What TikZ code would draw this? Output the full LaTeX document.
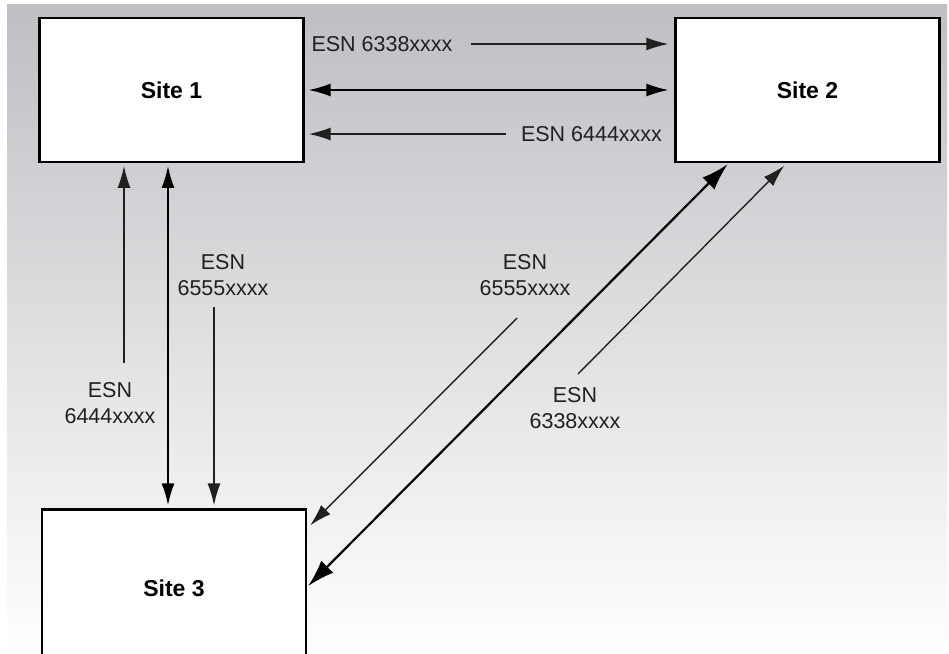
\documentclass[tikz,border=0pt]{standalone}
\usepackage{fontspec}
\setmainfont{Liberation Sans}
\usetikzlibrary{arrows.meta}

\definecolor{bgtop}{RGB}{190,191,195}
\definecolor{ink}{RGB}{35,31,32}

\begin{document}
\begin{tikzpicture}[x=1pt, y=-1pt,
        site/.style={draw=black, line width=2.3pt, fill=white, minimum width=264pt, minimum height=143.5pt, font=\fontsize{23}{27}\selectfont\bfseries},
        esn/.style={text=ink, font=\fontsize{21.5}{26}\selectfont, align=center, inner sep=0pt},
        link/.style={draw=ink, line width=1.4pt, -{Latex[length=22pt, width=13pt]}},
        duplex/.style={draw=black, line width=2pt, {Latex[length=22pt, width=13pt]}-{Latex[length=22pt, width=13pt]}},
        bigduplex/.style={draw=black, line width=2.2pt, {Latex[length=27pt, width=17pt]}-{Latex[length=27pt, width=17pt]}}]

        % Page and background
        \useasboundingbox (0,0) rectangle (949,653);
        \shade[top color=bgtop, bottom color=white] (7,4) rectangle (947,653);

        % Sites
        \node[site] (s1) at (171.5,90) {Site 1};
        \node[site] (s2) at (807.5,90) {Site 2};
        \node[site, minimum height=157pt] (s3) at (174,588) {Site 3};

        % ESN labels
        \node[esn] (l1) at (382,44) {ESN 6338xxxx};
        \node[esn] (l2) at (591.5,134) {ESN 6444xxxx};
        \node[esn] (l3) at (110,403) {ESN\\6444xxxx};
        \node[esn] (l4) at (223,275) {ESN\\6555xxxx};
        \node[esn] (l5) at (525,275) {ESN\\6555xxxx};
        \node[esn] (l6) at (575,408) {ESN\\6338xxxx};

        % Free ends of the links
        \coordinate (c4) at (124,363);
        \coordinate (c5) at (168,300);
        \coordinate (c6) at (214,307);
        \coordinate (c7) at (517,318);
        \coordinate (c9) at (578,374);

        % Site 1 -- Site 2
        \draw[link, shorten >=6pt] ([xshift=18pt]l1.east) -- (l1 -| s2.west);
        \draw[duplex, line width=1.6pt, shorten <=4pt, shorten >=6pt] (s1.east) -- (s2.west);
        \draw[link, shorten >=4pt] ([xshift=-15pt]l2.west) -- (l2 -| s1.east);

        % Site 1 -- Site 3
        \draw[link, shorten >=3pt] (c4) -- (c4 |- s1.south);
        \draw[duplex, shorten <=3pt, shorten >=3pt] (c5 |- s1.south) -- (c5 |- s3.north);
        \draw[link, shorten >=3pt] (c6) -- (c6 |- s3.north);

        % Site 2 -- Site 3
        \draw[link] (c7) -- ([shift={(3,17)}]s3.north east);
        \draw[bigduplex, shorten >=2pt] ([shift={(1,-2)}]s3.east) -- ([xshift=-78.5pt]s2.south);
        \draw[link, shorten >=4pt] (c9) -- ([xshift=-20.5pt]s2.south);

    \end{tikzpicture}
\end{document}
